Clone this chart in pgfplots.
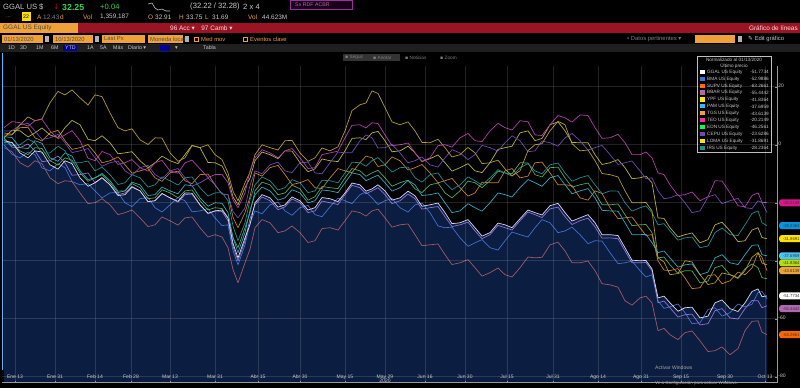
\documentclass[border=0pt]{standalone}
\usepackage{pgfplots}
\pgfplotsset{compat=1.18}
\usepackage{pgfplotstable}
\usepgfplotslibrary{fillbetween}
\usepackage{fontspec}
\setmainfont{Liberation Sans}
\newfontfamily\dejavu{DejaVu Sans}
\definecolor{navy}{HTML}{0B1D40}
\definecolor{bred}{HTML}{9A1424}
\definecolor{bor}{HTML}{F0A238}
\definecolor{bgreen}{HTML}{3CD050}
\definecolor{cggal}{HTML}{D8D8EC}
\definecolor{cbma}{HTML}{4070D0}
\definecolor{csupv}{HTML}{A05868}
\definecolor{cbbar}{HTML}{9070D0}
\definecolor{cypf}{HTML}{B09A30}
\definecolor{cpam}{HTML}{30A8C0}
\definecolor{ctgs}{HTML}{C08030}
\definecolor{cteo}{HTML}{B040A8}
\definecolor{cedn}{HTML}{50A860}
\definecolor{ccepu}{HTML}{7048B0}
\definecolor{cloma}{HTML}{B8B040}
\definecolor{cirs}{HTML}{208C90}
\definecolor{lgray}{HTML}{C8C8C8}

\pgfplotstableread{
x ggal bma supv bbar ypf pam tgs teo edn cepu loma irs
4 1.4 0.0 -1.0 2.4 3.4 2.8 4.1 5.9 0.7 4.8 2.4 2.1
12 0.8 -3.3 -2.4 -0.8 3.4 2.5 3.6 8.0 0.8 4.7 5.0 -0.3
20 -2.8 -4.5 -6.2 -1.0 6.9 -1.0 5.9 7.6 -2.1 6.9 4.8 0.0
28 -4.5 -2.5 -7.7 0.3 9.6 -1.3 6.0 6.4 -3.4 7.4 2.7 2.0
35 -2.1 -3.4 -5.5 -2.1 8.3 1.4 2.4 8.3 -1.0 4.8 4.1 0.7
42 -2.5 -8.0 -6.5 -5.8 8.9 0.5 1.3 8.8 -1.3 1.8 5.8 -2.9
50 -6.9 -9.0 -11.4 -5.5 14.5 -4.5 4.1 4.8 -5.5 2.4 3.4 -2.8
58 -8.4 -6.5 -13.4 -3.9 18.4 -5.7 5.0 2.1 -7.0 3.6 2.5 -0.5
65 -5.5 -7.9 -12.4 -6.2 17.2 -2.8 1.4 3.4 -4.5 0.7 5.9 -2.1
72 -6.5 -12.7 -12.7 -10.5 18.9 -3.9 -1.6 4.9 -5.3 -2.7 8.4 -6.2
80 -11.4 -13.8 -16.6 -10.3 16.2 -9.0 -1.0 1.4 -9.7 -2.1 6.9 -6.2
88 -14.3 -13.4 -20.3 -9.7 13.7 -12.0 0.1 -4.6 -12.6 -1.3 1.9 -5.6
95 -13.1 -15.9 -20.0 -13.1 17.2 -11.4 -2.8 -5.5 -11.4 -4.5 1.4 -9.0
102 -11.3 -18.3 -18.6 -11.5 16.6 -9.9 -6.2 -2.3 -10.3 -7.4 3.1 -7.7
110 -13.8 -16.6 -20.7 -13.8 11.0 -12.4 -5.5 -3.4 -13.1 -6.2 0.7 -10.3
118 -17.5 -16.5 -24.1 -17.2 5.9 -16.0 -4.2 -6.8 -16.5 -5.6 -3.1 -13.7
125 -17.2 -20.0 -23.4 -16.6 4.8 -15.9 -6.9 -6.2 -15.9 -9.0 -2.8 -13.1
132 -14.6 -21.3 -22.5 -14.3 5.5 -12.9 -9.8 -5.1 -13.4 -10.5 -2.4 -10.3
140 -15.9 -18.6 -25.2 -15.9 1.7 -13.8 -9.0 -7.9 -14.8 -7.9 -5.5 -11.4
148 -19.6 -18.2 -28.2 -19.6 0.1 -17.5 -8.2 -9.1 -18.6 -7.1 -7.9 -14.6
155 -19.3 -21.7 -27.6 -19.3 2.4 -17.2 -11.4 -6.2 -18.3 -10.3 -6.2 -13.8
162 -16.8 -23.2 -24.9 -16.8 2.3 -14.6 -12.6 -5.4 -15.5 -11.7 -3.9 -11.1
170 -18.3 -20.7 -26.2 -18.3 -2.8 -15.9 -9.7 -9.0 -16.6 -9.0 -5.5 -12.4
178 -19.5 -18.2 -27.7 -19.8 -5.7 -16.9 -9.1 -9.8 -18.3 -8.2 -6.5 -13.9
185 -16.6 -19.3 -25.2 -17.2 -4.5 -13.8 -12.4 -6.2 -15.9 -11.4 -3.4 -11.4
192 -16.7 -23.1 -24.9 -17.0 -0.3 -14.1 -13.4 -5.3 -15.6 -14.3 -0.2 -11.1
200 -20.7 -22.8 -28.6 -20.7 -1.0 -18.3 -10.3 -8.3 -19.3 -13.1 -1.0 -14.8
208 -23.6 -22.0 -31.8 -23.8 0.0 -21.2 -10.1 -11.3 -22.5 -11.5 -6.1 -17.7
215 -22.8 -25.2 -31.0 -22.8 -3.4 -20.0 -13.8 -10.3 -21.7 -13.8 -6.2 -16.6
222 -22.5 -27.9 -31.8 -23.0 -5.1 -20.2 -17.0 -10.2 -22.0 -17.0 -7.3 -16.5
228 -25.2 -27.6 -35.5 -26.2 -9.7 -23.4 -17.2 -13.1 -25.2 -17.2 -11.4 -19.3
233 -34.0 -36.5 -43.0 -35.0 -16.0 -32.0 -25.0 -19.0 -32.0 -23.0 -18.0 -28.0
238 -39.0 -41.4 -47.6 -40.0 -19.3 -37.2 -28.6 -21.7 -35.5 -25.2 -20.7 -33.1
245 -32.1 -34.5 -40.7 -33.1 -13.1 -30.3 -23.4 -16.6 -28.6 -21.7 -14.8 -26.9
250 -27.5 -27.0 -36.0 -25.5 -9.5 -22.5 -18.0 -9.0 -23.5 -14.0 -11.5 -19.0
255 -20.0 -22.8 -28.6 -20.7 -3.4 -17.2 -9.7 -4.5 -15.9 -9.0 -5.5 -13.8
262 -17.2 -23.8 -25.8 -18.0 0.0 -14.6 -10.8 -1.7 -12.9 -10.0 -2.5 -11.1
270 -18.3 -20.7 -26.9 -19.3 -1.0 -15.9 -7.9 -2.8 -13.8 -6.9 -3.4 -12.4
278 -21.5 -19.8 -30.3 -22.4 -1.8 -19.1 -7.1 -4.5 -17.2 -6.0 -4.8 -15.6
285 -20.7 -22.8 -29.7 -21.4 1.4 -18.3 -10.3 -2.1 -16.6 -9.0 -2.1 -14.8
292 -18.0 -24.3 -28.0 -18.7 1.5 -15.5 -13.7 -1.3 -13.9 -9.6 -2.2 -12.0
300 -19.3 -21.7 -30.3 -20.0 -2.8 -16.6 -13.1 -4.5 -15.2 -6.2 -6.2 -13.1
308 -22.5 -20.9 -33.7 -23.4 -5.7 -20.0 -12.0 -8.2 -19.1 -6.0 -9.3 -16.5
315 -21.7 -24.1 -33.1 -22.8 -4.5 -19.3 -14.8 -7.9 -17.9 -9.7 -8.3 -15.9
322 -18.2 -24.8 -28.9 -19.4 -1.1 -15.6 -15.1 -3.4 -14.4 -10.0 -4.9 -12.2
330 -18.6 -21.4 -28.6 -20.0 -2.1 -15.9 -11.4 -2.8 -14.8 -6.2 -5.5 -12.4
338 -19.6 -18.4 -29.4 -20.6 -0.7 -16.5 -8.2 -2.2 -15.1 -2.5 -5.8 -13.1
345 -16.6 -19.3 -26.2 -17.2 4.8 -13.1 -9.0 2.4 -11.4 -2.8 -2.1 -9.7
352 -13.2 -20.3 -22.8 -14.0 11.8 -9.7 -9.6 6.7 -8.2 -2.7 2.2 -6.0
360 -13.8 -17.2 -23.4 -14.8 13.8 -10.3 -6.2 6.9 -9.0 1.4 2.4 -6.2
366 -16.0 -16.3 -24.6 -16.9 14.4 -12.4 -3.9 5.8 -10.9 3.4 1.8 -7.4
372 -15.2 -18.3 -22.8 -15.9 18.6 -11.4 -4.5 7.6 -9.7 2.4 4.1 -5.5
378 -13.8 -20.6 -22.2 -14.8 17.7 -10.5 -7.5 7.3 -8.8 -1.1 4.6 -4.4
385 -15.9 -19.3 -25.2 -17.2 12.8 -13.1 -6.9 3.4 -11.4 -1.0 1.4 -6.9
392 -19.1 -18.5 -28.4 -20.3 7.9 -16.0 -4.2 -0.3 -14.3 0.1 -2.4 -9.4
400 -18.3 -21.7 -27.6 -19.3 6.9 -14.8 -5.5 0.0 -13.1 -2.8 -2.1 -7.9
408 -16.0 -23.2 -27.3 -17.0 7.9 -12.3 -8.7 0.6 -12.2 -6.2 -0.5 -7.7
415 -17.6 -20.7 -31.0 -18.6 4.8 -13.8 -7.9 -2.8 -15.2 -5.5 -2.8 -11.4
422 -21.2 -20.1 -34.8 -22.2 0.8 -17.5 -6.8 -5.7 -16.5 -4.2 -5.8 -12.9
430 -20.7 -23.4 -34.5 -21.7 0.7 -17.2 -9.7 -4.5 -13.8 -6.9 -4.8 -10.3
438 -20.1 -28.0 -34.2 -21.3 1.9 -16.6 -13.1 -0.3 -13.2 -7.7 -3.5 -9.7
445 -23.4 -28.6 -37.9 -24.8 -1.0 -20.0 -12.4 0.0 -16.6 -4.5 -6.2 -13.1
452 -27.2 -28.4 -41.3 -28.2 -4.2 -23.4 -11.6 -0.8 -18.3 -1.7 -9.1 -15.5
460 -26.9 -32.1 -40.7 -27.6 -3.4 -22.8 -14.8 2.4 -15.9 -2.8 -7.9 -13.8
468 -25.8 -35.0 -39.6 -26.7 -0.9 -20.3 -17.7 3.9 -12.5 -5.1 -6.5 -11.1
475 -28.6 -33.8 -42.4 -29.7 -2.8 -21.7 -16.6 1.4 -13.1 -3.4 -9.0 -12.4
482 -31.5 -32.7 -45.3 -32.4 -6.5 -22.9 -12.9 1.1 -14.8 -0.2 -9.6 -13.9
490 -30.3 -35.5 -44.1 -31.0 -6.2 -20.0 -13.1 4.8 -12.4 -1.0 -6.2 -11.4
498 -27.0 -36.3 -42.5 -27.8 -5.3 -16.6 -13.1 7.4 -9.1 -2.2 -1.6 -8.6
505 -27.6 -33.1 -44.8 -28.6 -8.3 -17.2 -9.0 5.9 -9.7 0.7 -1.0 -9.7
512 -28.6 -30.1 -45.6 -29.4 -10.7 -18.0 -8.2 5.1 -10.0 3.1 -0.5 -10.8
520 -25.5 -31.0 -42.4 -26.2 -9.0 -14.8 -11.4 8.3 -6.2 1.4 4.1 -7.9
528 -22.5 -31.8 -38.7 -23.2 -2.0 -12.0 -10.8 7.9 -6.3 -2.4 4.8 -6.5
535 -23.4 -28.6 -39.0 -24.1 0.0 -13.1 -6.2 3.4 -10.3 -2.1 1.4 -9.0
542 -24.2 -25.8 -38.8 -25.1 0.4 -14.3 -6.0 3.2 -11.1 1.3 2.2 -10.0
550 -21.0 -26.9 -34.5 -22.1 4.8 -11.4 -9.7 6.9 -7.9 0.7 6.9 -6.9
558 -20.2 -30.3 -33.6 -21.5 8.1 -10.6 -13.8 10.1 -7.7 -0.5 7.9 -6.3
565 -23.4 -29.7 -36.6 -24.8 6.9 -13.8 -13.8 9.3 -11.4 2.4 4.8 -9.7
572 -26.3 -28.4 -40.7 -27.5 0.4 -16.9 -14.1 7.8 -14.6 3.9 0.8 -12.6
580 -25.2 -31.0 -40.7 -26.2 -2.1 -15.9 -18.3 10.3 -13.8 1.4 0.7 -11.4
588 -24.1 -34.1 -40.1 -25.3 -1.8 -15.1 -19.1 10.1 -13.2 -1.8 0.7 -10.6
595 -26.9 -33.1 -43.4 -28.3 -5.5 -18.3 -15.9 5.9 -16.6 -1.0 -3.4 -13.8
602 -31.0 -33.2 -47.9 -32.2 -9.9 -22.6 -16.8 2.2 -20.7 -0.2 -6.8 -16.9
610 -31.0 -37.2 -48.3 -32.1 -10.3 -22.8 -21.7 2.4 -20.7 -3.4 -6.2 -15.9
618 -31.3 -41.0 -49.1 -32.4 -11.1 -22.9 -25.5 3.6 -20.4 -6.8 -5.1 -16.0
625 -35.5 -40.7 -53.8 -36.6 -15.9 -26.9 -25.2 0.7 -24.1 -6.2 -7.9 -20.0
632 -39.8 -40.1 -55.3 -40.7 -20.0 -31.0 -24.9 -3.4 -27.9 -5.6 -11.7 -22.9
640 -40.0 -43.4 -52.8 -40.7 -20.0 -31.0 -28.6 -3.4 -27.6 -9.0 -11.4 -21.7
646 -39.9 -45.6 -52.2 -40.6 -19.9 -30.9 -31.3 -2.5 -27.5 -11.7 -10.8 -21.1
652 -42.8 -44.8 -54.5 -43.4 -22.8 -33.8 -31.0 -4.5 -30.3 -11.4 -13.1 -23.4
658 -52.8 -53.8 -64.1 -54.5 -39.0 -37.2 -40.0 -9.7 -39.0 -15.9 -25.2 -27.6
664 -52.2 -56.4 -63.3 -53.9 -40.4 -36.6 -43.2 -10.3 -38.7 -18.6 -25.4 -27.2
670 -54.5 -55.9 -65.5 -56.2 -44.8 -39.0 -43.4 -13.8 -41.4 -18.3 -28.6 -29.7
678 -57.4 -54.9 -67.2 -59.4 -44.4 -42.2 -42.7 -17.5 -44.4 -17.2 -31.8 -32.9
685 -56.2 -57.9 -64.8 -58.6 -40.0 -41.4 -45.9 -17.2 -43.4 -20.0 -31.0 -32.1
692 -56.0 -61.7 -64.2 -58.4 -40.4 -41.1 -49.6 -16.3 -43.5 -23.4 -30.4 -31.8
700 -59.7 -61.4 -67.6 -62.1 -44.8 -44.8 -49.3 -19.3 -47.6 -22.8 -33.8 -35.5
708 -59.1 -56.8 -71.3 -61.7 -48.2 -43.9 -45.1 -17.9 -47.0 -18.0 -32.7 -34.9
715 -54.5 -56.2 -71.0 -57.2 -47.6 -39.0 -44.8 -12.4 -42.4 -17.2 -27.6 -30.3
722 -53.5 -59.1 -69.7 -56.5 -44.2 -37.9 -47.9 -12.5 -41.6 -20.3 -26.7 -28.7
730 -56.5 -57.9 -72.4 -59.7 -44.8 -40.7 -46.9 -16.6 -44.8 -19.3 -29.7 -31.0
738 -57.5 -54.9 -70.3 -60.1 -46.1 -41.3 -43.9 -21.0 -45.8 -18.5 -33.4 -31.3
745 -54.5 -55.9 -64.1 -56.5 -43.4 -37.9 -44.8 -21.4 -42.8 -21.7 -33.1 -27.6
752 -50.6 -55.0 -60.9 -53.7 -38.8 -34.7 -42.5 -17.5 -41.1 -22.0 -29.4 -23.7
758 -49.7 -51.0 -60.7 -53.8 -37.2 -34.5 -37.2 -16.6 -42.4 -19.3 -28.6 -22.8
762 -52.4 -50.6 -64.6 -56.2 -40.8 -37.9 -38.8 -19.8 -45.8 -19.9 -32.0 -26.9
767 -52.1 -53.1 -65.5 -55.5 -41.4 -38.3 -43.4 -20.0 -46.2 -23.4 -32.4 -27.9
}\data

\tikzset{
 hdr/.style={anchor=west, inner sep=0pt, font=\fontsize{6.5}{7}\selectfont},
 ln/.style={line width=0.6pt, line join=round},
 pill/.style={anchor=west, rounded corners=0.7mm, minimum height=2.1mm, minimum width=7.2mm, inner sep=0.2mm, font=\fontsize{3.6}{4}\selectfont, text=black!80}
}

\begin{document}
\begin{tikzpicture}[x=0.3mm,y=0.3mm]
\fill[black] (0,0) rectangle (800,388);

% ---------- header row 1
\node[hdr, text=lgray] at (3,381) {GGAL US \$};
\node[hdr, text=red!80!black] at (53,381) {\dejavu ↓};
\node[hdr, text=bgreen, font=\fontsize{7.5}{8}\selectfont\bfseries] at (62,381) {32.25};
\node[hdr, text=bgreen] at (100,381) {+0.04};
\draw[lgray, line width=0.5pt] (148,384) -- (152,385) -- (155,380) -- (158,378) -- (162,379) -- (166,377) -- (170,377);
\node[hdr, text=lgray] at (190,381) {(32.22 / 32.28)};
\node[hdr, text=lgray] at (243,381) {2 x 4};
\draw[draw=violet!80, fill=violet!20!black, line width=0.6pt] (290,379) rectangle (352,388);
\node[hdr, text=violet!60, font=\fontsize{4.5}{5}\selectfont] at (295,383.5) {Sx RDF ACBR};

% ---------- header row 2
\node[hdr, text=gray, font=\fontsize{5}{5}\selectfont] at (6,371) {...};
\fill[yellow!80!orange] (22,367) rectangle (31,376);
\node[hdr, text=black, font=\fontsize{4.5}{5}\selectfont] at (23,371.5) {22};
\begin{scope}[every node/.style={hdr, font=\fontsize{5.5}{6}\selectfont}]
\node[text=bor] at (37,371) {A};
\node[text=gray] at (43,371) {12:43};
\node[text=bor] at (60,371) {d};
\node[text=bor] at (83,371) {Vol};
\node[text=lgray] at (100,371) {1,359,187};
\node[text=bor] at (148,371) {O};
\node[text=lgray] at (155,371) {32.91};
\node[text=bor] at (179,371) {H};
\node[text=lgray] at (186,371) {33.75};
\node[text=bor] at (205,371) {L};
\node[text=lgray] at (212,371) {31.69};
\node[text=bor] at (248,371) {Vol};
\node[text=lgray] at (262,371) {44.623M};
\end{scope}

% ---------- red bar
\fill[bred] (0,355) rectangle (800,365);
\fill[bor] (0,355) rectangle (78,365);
\node[hdr, text=black!70, font=\fontsize{5.5}{6}\selectfont] at (3,360) {GGAL US Equity};
\node[hdr, text=white!85!red, font=\fontsize{5.5}{6}\selectfont] at (170,360) {96 Acc {\dejavu ▾}\quad 97 Camb {\dejavu ▾}};
\node[anchor=east, inner sep=0pt, text=white!85!red, font=\fontsize{5.5}{6}\selectfont] at (798,360) {Gráfico de líneas};

% ---------- row 4
\begin{scope}[every node/.style={hdr, font=\fontsize{5}{5.5}\selectfont, text=black!70}]
\fill[bor] (2,345) rectangle (43,353); \node at (4,349) {01/13/2020};
\fill[gray!60] (45,346) rectangle (49,352);
\fill[bor] (53,345) rectangle (93,353); \node at (55,349) {10/13/2020};
\fill[gray!60] (95,346) rectangle (99,352);
\fill[bor] (102,345) rectangle (145,353); \node at (104,349) {Last Px};
\fill[bor] (148,345) rectangle (183,353); \node at (150,349) {Moneda local};
\fill[gray!60] (185,346) rectangle (189,352);
\end{scope}
\begin{scope}[every node/.style={hdr, font=\fontsize{5}{5.5}\selectfont, text=bor}]
\draw[bor] (194,347) rectangle (198,351); \node at (201,349) {Med mov};
\draw[bor] (243,347) rectangle (247,351); \node at (250,349) {Eventos clave};
\end{scope}
\node[hdr, text=gray, font=\fontsize{5}{5.5}\selectfont] at (627,349) {• Datos pertinentes {\dejavu ▾}};
\fill[bor] (695,345) rectangle (735,353);
\fill[gray!60] (738,346) rectangle (742,352);
\node[hdr, text=lgray, font=\fontsize{5}{5.5}\selectfont] at (748,349) {{\dejavu ✎} Edit gráfico};

% ---------- row 5
\fill[black!88] (0,336) rectangle (800,344);
\begin{scope}[every node/.style={hdr, font=\fontsize{4.5}{5}\selectfont, text=lgray}]
\node at (8,340) {1D};
\node at (20,340) {3D};
\node at (36,340) {1M};
\node at (51,340) {6M};
\fill[blue!60!black] (63,337) rectangle (77,343); \node at (65,340) {YTD};
\node at (87,340) {1A};
\node at (100,340) {5A};
\node at (113,340) {Máx};
\node at (128,340) {Diario {\dejavu ▾}};
\fill[blue!60!black] (160,337) rectangle (170,343);
\node at (175,340) {{\dejavu ▾}};
\node at (203,340) {Tabla};
\end{scope}

% ---------- chart toolbar
\begin{scope}[every node/.style={hdr, font=\fontsize{4}{4.5}\selectfont, text=gray}]
\fill[black!80] (343,327) rectangle (400,334);
\node at (345,330.5) {{\dejavu ▪} Seguir};
\node at (373,330.5) {{\dejavu ▪} Anotar};
\node at (405,330.5) {{\dejavu ▪} Noticias};
\node at (440,330.5) {{\dejavu ▪} Zoom};
\end{scope}

% ---------- main axis
\begin{axis}[
  at={(2,18)}, anchor=south west, scale only axis,
  width=232.5mm, height=95.1mm,
  xmin=2, xmax=777, ymin=-82.07, ymax=27.24,
  axis x line*=bottom, axis y line*=right,
  axis line style={draw=gray!80, line width=0.5pt},
  axis on top,
  xtick={15,55,95,131,170,215,258,300,345,385,425,465,507,553,598,641,681,725,765},
  xticklabels={Ene 13,Ene 31,Feb 14,Feb 28,Mar 13,Mar 31,Abr 15,Abr 30,May 15,May 29,Jun 16,Jun 30,Jul 15,Jul 31,Ago 14,Ago 31,Sep 15,Sep 30,Oct 13},
  typeset ticklabels with strut,
  xticklabel style={font=\fontsize{4.3}{4.6}\selectfont, text=lgray, inner sep=0.3pt, yshift=7.5pt},
  ytick={20,0,-20,-40,-60,-80},
  yticklabels={20,0,,,-60,-80},
  yticklabel style={font=\fontsize{4.3}{4.6}\selectfont, text=lgray, inner sep=1pt},
  major tick length=1.5pt,
  tick style={draw=gray!80, line width=0.4pt},
  xmajorgrids, ymajorgrids,
  grid style={draw=white, opacity=0.13, line width=0.5pt},
  clip=false,
]
\addplot[name path=g, draw=none, forget plot] table[x=x,y=ggal]{\data};
\path[name path=b] (axis cs:4,-82.07) -- (axis cs:767,-82.07);
\addplot[fill=navy, draw=none] fill between[of=g and b, on layer=main];
\addplot[ln, csupv] table[x=x,y=supv]{\data};
\addplot[ln, cbma] table[x=x,y=bma]{\data};
\addplot[ln, cedn] table[x=x,y=edn]{\data};
\addplot[ln, cbbar] table[x=x,y=bbar]{\data};
\addplot[ln, ctgs] table[x=x,y=tgs]{\data};
\addplot[ln, cpam] table[x=x,y=pam]{\data};
\addplot[ln, cirs] table[x=x,y=irs]{\data};
\addplot[ln, cloma] table[x=x,y=loma]{\data};
\addplot[ln, ccepu] table[x=x,y=cepu]{\data};
\addplot[ln, cypf] table[x=x,y=ypf]{\data};
\addplot[ln, cteo] table[x=x,y=teo]{\data};
\addplot[ln, cggal] table[x=x,y=ggal]{\data};
\coordinate (p1) at (axis cs:779,-20.0);
\coordinate (p2) at (axis cs:779,-27.9);
\coordinate (p3) at (axis cs:779,-32.4);
\coordinate (p4) at (axis cs:779,-38.3);
\coordinate (p5) at (axis cs:779,-40.7);
\coordinate (p6) at (axis cs:779,-43.4);
\coordinate (p7) at (axis cs:779,-52.1);
\coordinate (p8) at (axis cs:779,-56.5);
\coordinate (p9) at (axis cs:779,-65.5);
\end{axis}

% year under May 29
\node[inner sep=0pt, text=lgray, font=\fontsize{4.3}{4.6}\selectfont] at (385,7) {2020};

% left edge line
\draw[blue!40!cyan!70, line width=0.5pt] (2,18) -- (2,335);

% value pills
\node[pill, fill=magenta!80!violet] at (p1) {-20.2149};
\node[pill, fill=cyan!80!blue] at (p2) {-28.2364};
\node[pill, fill=yellow!85!orange] at (p3) {-31.8691};
\node[pill, fill=cyan!70] at (p4) {-37.6959};
\node[pill, fill=yellow!70!green] at (p5) {-41.8364};
\node[pill, fill=bor] at (p6) {-43.6139};
\node[pill, fill=white] at (p7) {-51.7734};
\node[pill, fill=violet!60] at (p8) {-55.4442};
\node[pill, fill=orange!80!red] at (p9) {-63.2661};

% legend
\fill[black] (697,236) rectangle (771,332);
\draw[gray!50, line width=0.4pt] (697,236) rectangle (771,332);
\node[inner sep=0pt, text=lgray, font=\fontsize{4}{4.5}\selectfont] at (734,328) {Normalizado al 01/13/2020};
\node[inner sep=0pt, text=lgray, font=\fontsize{4}{4.5}\selectfont] at (734,322) {Último precio};
\foreach \c/\n/\v [count=\i from 0] in {
  white/GGAL/-51.7734, cbma/BMA/-52.9886, orange!80!red/SUPV/-63.2661, violet!60/BBAR/-55.4442,
  yellow!90!orange/YPF/-41.8364, cyan!80/PAM/-37.6959, bor/TGS/-43.6139, magenta!80/TEO/-20.2149,
  green!70!cyan/EDN/-46.2561, ccepu/CEPU/-23.6286, yellow!85!orange/LOMA/-31.8691, cirs/IRS/-28.2364}{
  \pgfmathsetmacro\yy{316-6.9*\i}
  \fill[\c] (700,\yy-2) rectangle (704.5,\yy+2.2);
  \node[hdr, text=lgray, font=\fontsize{4}{4.5}\selectfont] at (707,\yy) {\n\ US Equity};
  \node[anchor=east, inner sep=0pt, text=lgray, font=\fontsize{4}{4.5}\selectfont] at (769,\yy) {\v};
}

% watermark
\node[hdr, text=gray!70, font=\fontsize{4.3}{4.6}\selectfont] at (655,20) {Activar Windows};
\node[hdr, text=gray!70, font=\fontsize{3.8}{4.2}\selectfont] at (655,5) {Ve a Configuración para activar Windows.};

\pgfresetboundingbox
\useasboundingbox (0,0) rectangle (800,388);
\end{tikzpicture}
\end{document}
